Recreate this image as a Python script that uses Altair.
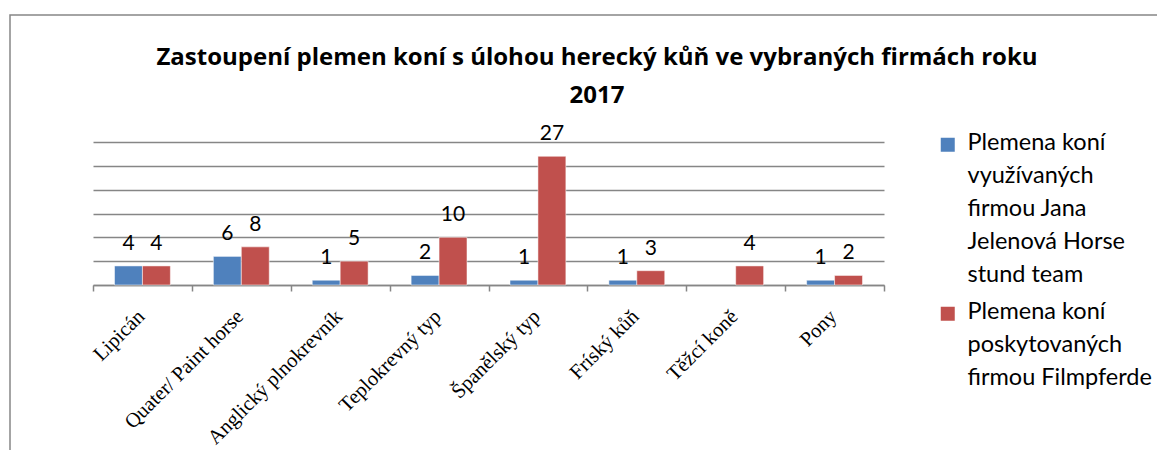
import altair as alt
import pandas as pd

categories = ["Lipicán", "Quater/ Paint horse", "Anglický plnokrevník", "Teplokrevný typ",
              "Španělský typ", "Fríský kůň", "Těžcí koně", "Pony"]
series = ["Plemena koní využívaných firmou Jana Jelenová Horse stund team",
          "Plemena koní poskytovaných firmou Filmpferde"]
legend_lines = [["Plemena koní", "využívaných", "firmou Jana", "Jelenová Horse", "stund team"],
                ["Plemena koní", "poskytovaných", "firmou Filmpferde"]]
values_jana = [4, 6, 1, 2, 1, 1, None, 1]
values_film = [4, 8, 5, 10, 27, 3, 4, 2]
colors = ["#4F81BD", "#C0504D"]
title_lines = ["Zastoupení plemen koní s úlohou herecký kůň ve vybraných firmách roku", "2017"]

rows = []
for cat, a, b in zip(categories, values_jana, values_film):
    rows.append({"kategorie": cat, "serie": series[0], "hodnota": a})
    rows.append({"kategorie": cat, "serie": series[1], "hodnota": b})
df = pd.DataFrame(rows)

label_expr = "datum.label == '%s' ? %s : %s" % (
    series[0],
    "[" + ",".join("'%s'" % s for s in legend_lines[0]) + "]",
    "[" + ",".join("'%s'" % s for s in legend_lines[1]) + "]",
)

grid_color = "#868686"
label_dy = -14  # vertical shift for legend labels (guide-label style)
comp = -label_dy * 0.7071  # compensation for rotated axis labels

base = alt.Chart(df).encode(
    x=alt.X("kategorie:N", sort=categories,
            scale=alt.Scale(paddingInner=0, paddingOuter=0),
            axis=alt.Axis(title=None, labelAngle=-45, labelAlign="right", labelBaseline="middle",
                          labelFont="Liberation Serif", labelFontSize=20.5, labelColor="black",
                          labelPadding=22 + comp, labelOffset=comp - 1.5, labelLimit=400,
                          tickBand="extent", tickSize=6,
                          tickColor=grid_color, domainColor=grid_color, domainWidth=1.5,
                          tickWidth=1.5, grid=False)),
    xOffset=alt.XOffset("serie:N", sort=series,
                        scale=alt.Scale(paddingInner=0, paddingOuter=0.77)),
    y=alt.Y("hodnota:Q", scale=alt.Scale(domain=[0, 30]),
            axis=alt.Axis(title=None, values=[0, 5, 10, 15, 20, 25, 30], labels=False, ticks=False,
                          domain=False, grid=True, gridColor=grid_color, gridWidth=1.5)),
)

bars = base.mark_bar(stroke="white", strokeOpacity=0.5, strokeWidth=1).encode(
    color=alt.Color("serie:N", sort=series,
                    scale=alt.Scale(domain=series, range=colors),
                    legend=alt.Legend(title=None, orient="none", legendX=843, legendY=-9,
                                      padding=0, symbolType="square", symbolSize=196,
                                      symbolStrokeWidth=0, labelOffset=8, labelBaseline="top",
                                      labelFont="Lato", labelFontSize=23.5, labelColor="black",
                                      labelLimit=400, rowPadding=12, labelExpr=label_expr))
)

labels = base.mark_text(baseline="alphabetic", dy=-16, font="Lato", fontSize=21, color="black").encode(
    text=alt.Text("hodnota:Q")
).transform_filter("isValid(datum.hodnota)")

border = alt.Chart(alt.Data(values=[{"a": 1}])).mark_rect(
    fill=None, stroke=grid_color, strokeWidth=1.5, clip=False
).encode(x=alt.value(-83), x2=alt.value(1200), y=alt.value(-127), y2=alt.value(400))

title = alt.Chart(alt.Data(values=[{"a": 1}])).mark_text(
    text=title_lines, font="Open Sans", fontSize=24, fontWeight="bold", color="black",
    lineHeight=38, baseline="top", align="center", clip=False
).encode(x=alt.value(504), y=alt.value(-96))

chart = alt.layer(border, title, bars, labels).properties(
    width=791, height=143,
    autosize=alt.AutoSizeParams(type="none"),
    padding={"left": 85, "top": 134, "right": 273, "bottom": 165},
).configure(style={"guide-label": {"lineHeight": 33, "dy": label_dy}}).configure_view(stroke=None)

chart.save("out.html", embed_options={"renderer": "svg", "actions": False})
